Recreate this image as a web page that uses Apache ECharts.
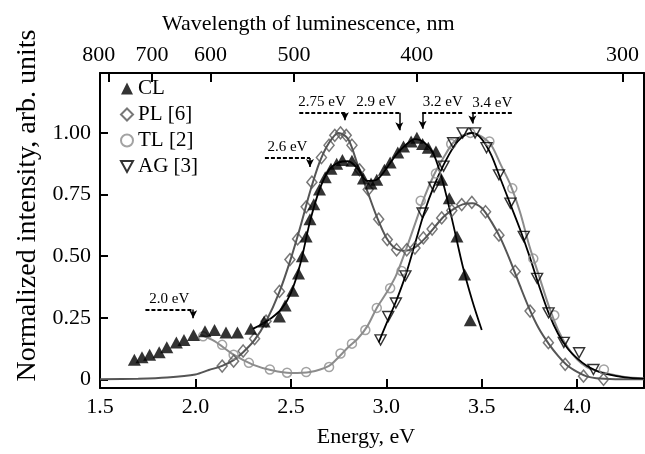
<!DOCTYPE html>
<html><head><meta charset="utf-8">
<script src="https://cdn.jsdelivr.net/npm/echarts@6.0.0/dist/echarts.min.js"></script>
<style>html,body{margin:0;padding:0;background:#fff}#c{width:645px;height:454px}</style>
</head><body><div id="c"></div>
<script>
// ---- axis ticks ----
const energyTicks = [1.5, 2.0, 2.5, 3.0, 3.5, 4.0];
const intensityTicks = [0, 0.25, 0.5, 0.75, 1.0];
const wavelengthLabels = ['800', '700', '600', '500', '400', '300'];
const wavelengthTickEnergy = [1.546, 1.773, 2.079, 2.516, 3.159, 4.237];

// ---- CL (cathodoluminescence) points ----
const clE = [1.68,1.72,1.76,1.81,1.85,1.90,1.94,1.99,2.05,2.10,2.16,2.22,2.29,2.36,2.44,2.47,2.51,2.54,2.56,2.58,2.60,2.62,2.65,2.68,2.71,2.74,2.77,2.82,2.85,2.88,2.92,2.95,2.99,3.02,3.06,3.09,3.13,3.16,3.19,3.22,3.26,3.29,3.33,3.37,3.41,3.44];
const clV = [0.08,0.09,0.10,0.11,0.13,0.15,0.16,0.18,0.195,0.20,0.19,0.19,0.205,0.235,0.255,0.30,0.36,0.43,0.50,0.58,0.65,0.71,0.77,0.82,0.855,0.875,0.89,0.887,0.85,0.815,0.795,0.81,0.85,0.88,0.92,0.945,0.965,0.98,0.955,0.94,0.925,0.81,0.735,0.58,0.425,0.24];
const clFitE = [2.30,2.35,2.40,2.45,2.50,2.55,2.60,2.65,2.70,2.75,2.80,2.85,2.90,2.95,3.00,3.05,3.10,3.15,3.20,3.25,3.30,3.35,3.40,3.45,3.50];
const clFitV = [0.205,0.225,0.25,0.285,0.35,0.47,0.64,0.77,0.85,0.88,0.885,0.855,0.805,0.81,0.855,0.91,0.95,0.975,0.96,0.91,0.79,0.63,0.46,0.32,0.20];

// ---- PL [6] ----
const plE = [2.14,2.20,2.25,2.31,2.37,2.44,2.495,2.535,2.58,2.61,2.66,2.70,2.73,2.76,2.79,2.82,2.86,2.905,2.96,3.005,3.054,3.107,3.15,3.194,3.24,3.29,3.343,3.395,3.448,3.52,3.59,3.675,3.753,3.849,3.937,4.033,4.138];
const plV = [0.054,0.074,0.115,0.165,0.236,0.357,0.486,0.57,0.70,0.80,0.90,0.95,0.99,1.0,0.99,0.95,0.85,0.77,0.65,0.567,0.526,0.526,0.533,0.574,0.61,0.655,0.685,0.709,0.718,0.68,0.585,0.438,0.277,0.149,0.061,0.013,0.0];
const plFitE = [1.50,1.70,1.85,2.00,2.07,2.14,2.20,2.25,2.31,2.37,2.44,2.50,2.55,2.60,2.65,2.70,2.75,2.80,2.85,2.90,2.95,3.00,3.05,3.10,3.15,3.20,3.25,3.30,3.35,3.40,3.45,3.50,3.55,3.60,3.65,3.70,3.75,3.80,3.85,3.90,3.95,4.00,4.05,4.10,4.20,4.35];
const plFitV = [0.0,0.003,0.008,0.02,0.038,0.055,0.078,0.11,0.16,0.235,0.355,0.49,0.62,0.76,0.88,0.96,1.0,0.975,0.87,0.765,0.66,0.575,0.53,0.522,0.535,0.57,0.615,0.66,0.69,0.71,0.715,0.695,0.64,0.57,0.48,0.38,0.285,0.205,0.145,0.095,0.055,0.03,0.012,0.005,0.001,0.0];

// ---- TL [2] ----
const tlE = [2.04,2.14,2.20,2.28,2.39,2.48,2.58,2.70,2.76,2.82,2.89,2.95,3.02,3.08,3.18,3.26,3.34,3.44,3.54,3.66,3.77,3.88,4.14];
const tlV = [0.175,0.14,0.10,0.067,0.04,0.027,0.03,0.05,0.105,0.145,0.20,0.29,0.37,0.44,0.725,0.835,0.955,1.0,0.965,0.775,0.49,0.26,0.04];
const tlFitE = [2.03,2.10,2.20,2.30,2.40,2.50,2.60,2.70,2.75,2.80,2.85,2.90,2.95,3.00,3.05,3.10,3.15,3.20,3.25,3.30,3.35,3.40,3.45,3.50,3.55,3.60,3.65,3.70,3.75,3.80,3.85,3.90,3.95,4.00,4.05,4.10,4.15,4.25,4.35];
const tlFitV = [0.18,0.155,0.10,0.06,0.037,0.026,0.03,0.055,0.09,0.13,0.165,0.215,0.29,0.35,0.42,0.52,0.63,0.74,0.83,0.9,0.96,0.99,1.0,0.985,0.95,0.87,0.79,0.68,0.54,0.42,0.30,0.20,0.13,0.08,0.05,0.035,0.025,0.01,0.004];

// ---- AG [3] ----
const agE = [2.97,3.01,3.05,3.10,3.19,3.25,3.30,3.35,3.40,3.465,3.525,3.59,3.65,3.72,3.79,3.85,3.93,4.01,4.085];
const agV = [0.16,0.255,0.31,0.42,0.675,0.78,0.865,0.96,1.0,1.0,0.94,0.83,0.715,0.58,0.41,0.27,0.15,0.108,0.04];
const agFitE = [2.96,3.00,3.05,3.10,3.15,3.20,3.25,3.30,3.35,3.40,3.45,3.50,3.55,3.60,3.65,3.70,3.75,3.80,3.85,3.90,3.95,4.00,4.05,4.10,4.15,4.25,4.35];
const agFitV = [0.15,0.225,0.315,0.42,0.55,0.68,0.785,0.87,0.94,0.985,1.0,0.975,0.91,0.81,0.71,0.61,0.50,0.38,0.27,0.185,0.125,0.085,0.055,0.035,0.022,0.008,0.003];

// ---- peak annotations (energy, intensity units) ----
const annLabels = ['2.0 eV', '2.6 eV', '2.75 eV', '2.9 eV', '3.2 eV', '3.4 eV'];
const annFrom   = [1.738, 2.364, 2.544, 2.827, 3.188, 3.448];
const annTo     = [1.988, 2.600, 2.783, 3.068, 3.403, 3.663];
const annLevel  = [0.283, 0.898, 1.082, 1.082, 1.082, 1.080];
const annArrowE = [1.988, 2.600, 2.783, 3.068, 3.190, 3.451];
const annTip    = [0.236, 0.850, 1.039, 0.999, 1.005, 1.026];

const FONT = 'Liberation Serif';
const pair = (xs, ys) => xs.map((x, i) => [x, ys[i]]);

const markData = [];
annLabels.forEach((t, i) => {
  markData.push([
    { coord: [annFrom[i], annLevel[i]], symbol: 'none', name: t,
      lineStyle: { type: [4, 2], width: 1.8, color: '#000' },
      label: { show: true, formatter: t, position: 'insideMiddleTop', distance: 3,
               fontFamily: FONT, fontSize: 15, color: '#000' } },
    { coord: [annTo[i], annLevel[i]], symbol: 'none' }
  ]);
  markData.push([
    { coord: [annArrowE[i], annLevel[i]], symbol: 'none',
      lineStyle: { type: 'solid', width: 1.5, color: '#000' }, label: { show: false } },
    { coord: [annArrowE[i], annTip[i] + 0.012], symbol: 'arrow', symbolSize: [6, 8] }
  ]);
});

const axisLineStyle = { color: '#000', width: 2 };
const labelStyle = { fontFamily: FONT, fontSize: 22, color: '#000' };

const option = {
  animation: false,
  backgroundColor: '#fff',
  title: {
    text: 'Wavelength of luminescence, nm', left: 157, top: 8,
    textStyle: { fontFamily: FONT, fontSize: 22, fontWeight: 'normal', color: '#000' }
  },
  legend: {
    data: ['CL', 'PL [6]', 'TL [2]', 'AG [3]'],
    orient: 'vertical', left: 120, top: 78, padding: 0,
    itemWidth: 12, itemHeight: 12, itemGap: 5,
    textStyle: { fontFamily: FONT, fontSize: 21, color: '#000' }
  },
  grid: { left: 100, right: 1, top: 73, bottom: 66 },
  xAxis: [
    {
      type: 'value', min: 1.5, max: 4.35, position: 'bottom',
      axisLine: { onZero: false, lineStyle: axisLineStyle },
      axisTick: { inside: true, length: 9, customValues: energyTicks, lineStyle: { color: '#000', width: 2 } },
      axisLabel: Object.assign({ customValues: energyTicks, margin: 8, formatter: v => v.toFixed(1) }, labelStyle),
      splitLine: { show: false },
      name: 'Energy, eV', nameLocation: 'middle', nameGap: 38,
      nameTextStyle: Object.assign({ padding: [0, 12, 0, 0] }, labelStyle)
    },
    {
      type: 'value', min: 1.5, max: 4.35, position: 'top',
      axisLine: { onZero: false, lineStyle: axisLineStyle },
      axisTick: { inside: true, length: 9, customValues: wavelengthTickEnergy, lineStyle: { color: '#000', width: 2 } },
      axisLabel: {
        customValues: wavelengthTickEnergy, margin: 7,
        formatter: v => {
          const i = wavelengthTickEnergy.findIndex(e => Math.abs(e - v) < 1e-6);
          if (i < 0) return '';
          return i === 0 ? '{s|' + wavelengthLabels[i] + '}' : '{n|' + wavelengthLabels[i] + '}';
        },
        rich: {
          s: { fontFamily: FONT, fontSize: 22, color: '#000', padding: [0, 20, 0, 0] },
          n: { fontFamily: FONT, fontSize: 22, color: '#000' }
        }
      },
      splitLine: { show: false }
    }
  ],
  yAxis: [
    {
      type: 'value', min: -0.035, max: 1.243,
      axisLine: { onZero: false, lineStyle: axisLineStyle },
      axisTick: { inside: true, length: 8, customValues: intensityTicks, lineStyle: { color: '#000', width: 2 } },
      axisLabel: Object.assign({ customValues: intensityTicks, margin: 9,
        formatter: v => (v === 0 ? '0' : v.toFixed(2)) }, labelStyle),
      splitLine: { show: false },
      name: 'Normalized intensity, arb. units', nameLocation: 'middle', nameGap: 58, nameRotate: 90,
      nameTextStyle: { fontFamily: FONT, fontSize: 28, color: '#000', padding: [0, 0, 0, 50] }
    },
    {
      type: 'value', min: -0.035, max: 1.243, position: 'right',
      axisLine: { show: true, onZero: false, lineStyle: axisLineStyle },
      axisTick: { show: false }, axisLabel: { show: false }, splitLine: { show: false }
    }
  ],
  series: [
    { name: 'PL fit', type: 'line', data: pair(plFitE, plFitV), smooth: 0.3, showSymbol: false,
      lineStyle: { color: '#555', width: 2 }, z: 2 },
    { name: 'TL fit', type: 'line', data: pair(tlFitE, tlFitV), smooth: 0.3, showSymbol: false,
      lineStyle: { color: '#8c8c8c', width: 2 }, z: 2 },
    { name: 'AG fit', type: 'line', data: pair(agFitE, agFitV), smooth: 0.3, showSymbol: false,
      lineStyle: { color: '#000', width: 1.8 }, z: 2 },
    { name: 'CL fit', type: 'line', data: pair(clFitE, clFitV), smooth: 0.3, showSymbol: false,
      lineStyle: { color: '#000', width: 1.8 }, z: 2 },
    { name: 'TL [2]', type: 'scatter', data: pair(tlE, tlV), symbol: 'circle', symbolSize: 9,
      itemStyle: { color: 'rgba(255,255,255,0)', borderColor: '#8c8c8c', borderWidth: 1.5 }, z: 3 },
    { name: 'PL [6]', type: 'scatter', data: pair(plE, plV), symbol: 'diamond', symbolSize: [10, 12],
      itemStyle: { color: 'rgba(255,255,255,0)', borderColor: '#555', borderWidth: 1.5 }, z: 3 },
    { name: 'AG [3]', type: 'scatter', data: pair(agE, agV), symbol: 'path://M0,0 L10,0 L5,9 Z', symbolSize: [11, 10],
      itemStyle: { color: 'rgba(255,255,255,0)', borderColor: '#000', borderWidth: 1.4 }, z: 4 },
    { name: 'CL', type: 'scatter', data: pair(clE, clV), symbol: 'triangle', symbolSize: [13, 12],
      itemStyle: { color: '#000' }, z: 5,
      markLine: { silent: true, symbol: ['none', 'none'], data: markData, animation: false } }
  ]
};

echarts.init(document.getElementById('c'), null, { renderer: 'canvas' }).setOption(option);
</script></body></html>
